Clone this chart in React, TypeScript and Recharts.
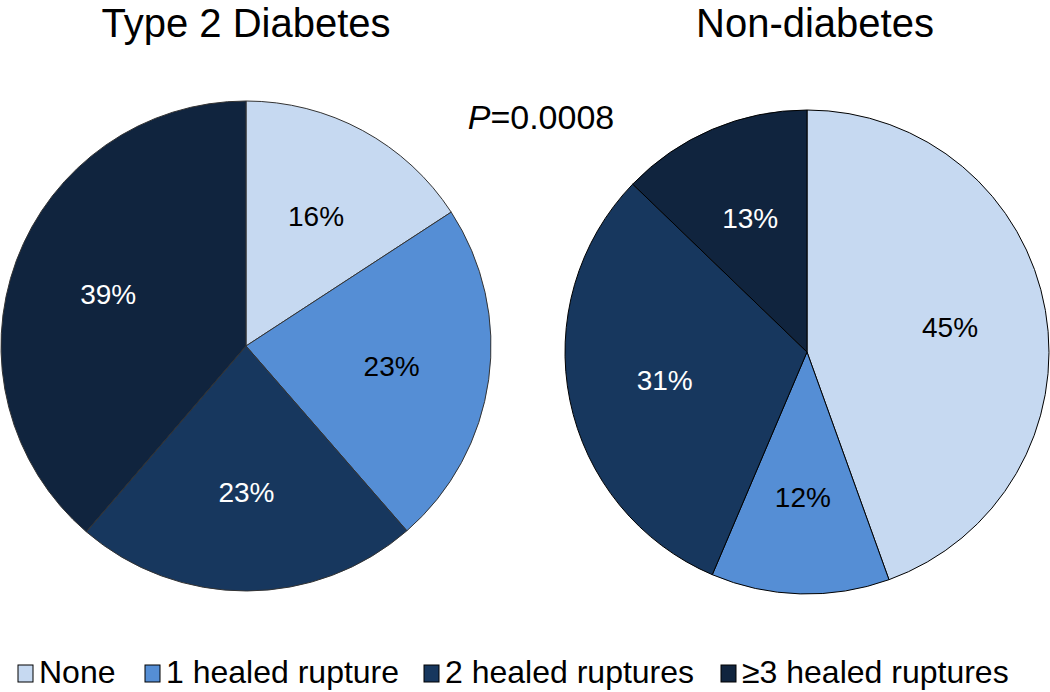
import { PieChart, Pie, Cell } from "recharts";

const categories = ["None", "1 healed rupture", "2 healed ruptures", "≥3 healed ruptures"];
const diabetesValues = [15.8, 22.8, 22.7, 38.7];
const nonDiabetesValues = [44.5, 11.9, 30.8, 12.8];
const groupTitles = ["Type 2 Diabetes", "Non-diabetes"];
const pValue = "0.0008";

const colors = ["#c6d9f1", "#558ed5", "#17375e", "#10243e"];
const labelColors = ["#000", "#000", "#fff", "#fff"];
const legendX = [18, 145, 424, 721];

const FONT = "'Liberation Sans', Arial, sans-serif";
const RADIAN = Math.PI / 180;

const diabetesData = categories.map((name, i) => ({ name, value: diabetesValues[i] }));
const nonDiabetesData = categories.map((name, i) => ({ name, value: nonDiabetesValues[i] }));

function renderLabel(props: any) {
  const { cx, cy, midAngle, outerRadius, value, index } = props;
  const r = outerRadius * 0.6;
  const x = cx + r * Math.cos(-midAngle * RADIAN);
  const y = cy + r * Math.sin(-midAngle * RADIAN);
  return (
    <text
      x={x}
      y={y}
      fill={labelColors[index]}
      textAnchor="middle"
      dominantBaseline="central"
      fontSize={28}
      fontFamily={FONT}
    >
      {Math.round(value)}%
    </text>
  );
}

export default function App() {
  return (
    <div style={{ position: "absolute", left: 0, top: 0, width: 1050, height: 692, background: "#fff" }}>
      <PieChart width={1050} height={692} margin={{ top: 0, right: 0, bottom: 0, left: 0 }}>
        <Pie
          data={diabetesData}
          dataKey="value"
          cx={246}
          cy={346}
          outerRadius={245}
          startAngle={90}
          endAngle={-270}
          stroke="#333"
          strokeWidth={1}
          label={renderLabel}
          labelLine={false}
          isAnimationActive={false}
        >
          {diabetesData.map((d, i) => (
            <Cell key={d.name} fill={colors[i]} />
          ))}
        </Pie>
        <Pie
          data={nonDiabetesData}
          dataKey="value"
          cx={807}
          cy={352}
          outerRadius={242}
          startAngle={90}
          endAngle={-270}
          stroke="#000"
          strokeWidth={1}
          label={renderLabel}
          labelLine={false}
          isAnimationActive={false}
        >
          {nonDiabetesData.map((d, i) => (
            <Cell key={d.name} fill={colors[i]} />
          ))}
        </Pie>
      </PieChart>
      <svg
        width={1050}
        height={692}
        style={{ position: "absolute", left: 0, top: 0, pointerEvents: "none" }}
        fontFamily={FONT}
      >
        <text x={246} y={37} textAnchor="middle" fontSize={40} fill="#000">
          {groupTitles[0]}
        </text>
        <text x={815} y={37} textAnchor="middle" fontSize={40} fill="#000">
          {groupTitles[1]}
        </text>
        <text x={541} y={129} textAnchor="middle" fontSize={34} fill="#000">
          <tspan fontStyle="italic">P</tspan>={pValue}
        </text>
        {categories.map((c, i) => (
          <g key={c}>
            <rect x={legendX[i]} y={665} width={15} height={17} fill={colors[i]} stroke="#000" strokeWidth={1} />
            <text x={legendX[i] + 21} y={683} fontSize={32} fill="#000">
              {c}
            </text>
          </g>
        ))}
      </svg>
    </div>
  );
}
